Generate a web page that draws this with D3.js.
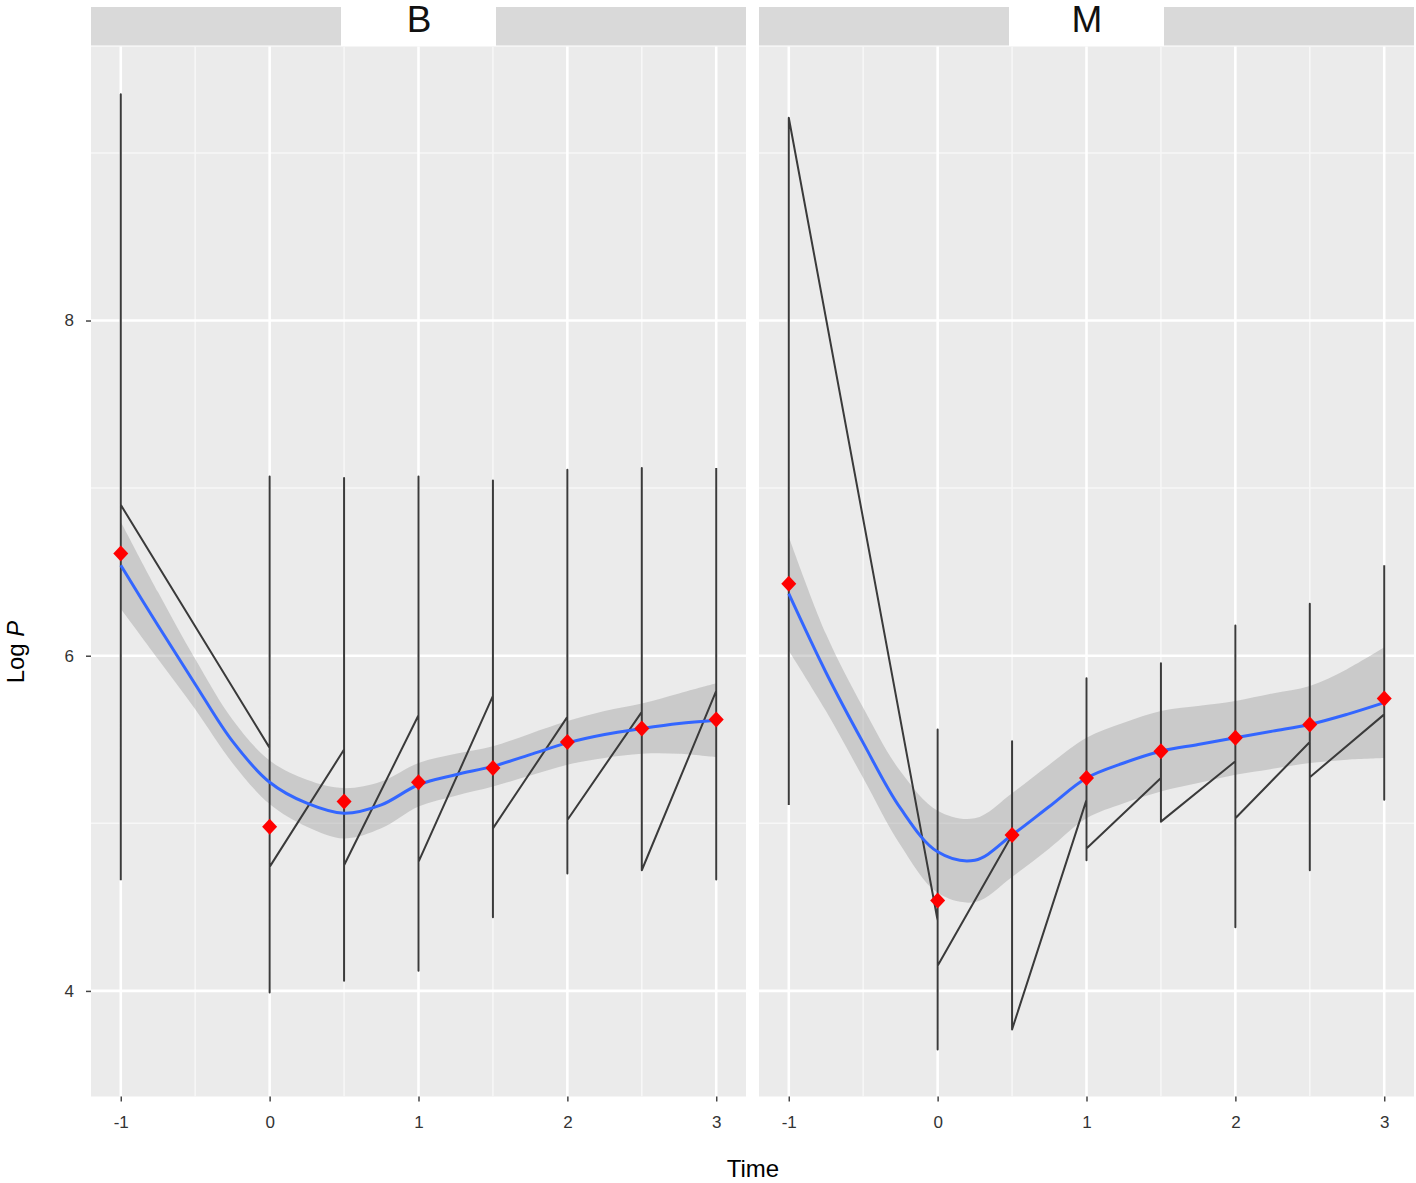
<!DOCTYPE html>
<html>
<head>
<meta charset="utf-8">
<script src="https://cdn.jsdelivr.net/npm/d3@7"></script>
<style>
  body { margin: 0; background: #fff; }
  text { font-family: "Liberation Sans", Arial, sans-serif; }
</style>
</head>
<body>
<div id="chart"></div>
<script>
// measurement times (x axis)
var times = [-1, 0, 0.5, 1, 1.5, 2, 2.5, 3];

// panel B: range of values, where the connecting line comes in / leaves, and the mean
var bLow   = [4.66, 3.99, 4.06, 4.12, 4.44, 4.70, 4.72, 4.665];
var bHigh  = [9.35, 7.07, 7.06, 7.07, 7.045, 7.11, 7.12, 7.12];
var bEntry = [null, 5.45, 5.44, 5.645, 5.76, 5.635, 5.665, 5.79];
var bExit  = [6.90, 4.74, 4.75, 4.77, 4.97, 5.02, 4.72, null];
var bMean  = [6.61, 4.98, 5.13, 5.245, 5.33, 5.485, 5.565, 5.62];

// panel M
var mLow   = [5.11, 3.65, 3.77, 4.78, 5.01, 4.38, 4.72, 5.14];
var mHigh  = [9.21, 5.56, 5.49, 5.865, 5.955, 6.18, 6.31, 6.54];
var mEntry = [null, 4.42, 4.93, 5.14, 5.27, 5.37, 5.485, 5.65];
var mExit  = [9.21, 4.15, 3.77, 4.85, 5.01, 5.03, 5.275, null];
var mMean  = [6.43, 4.54, 4.93, 5.27, 5.43, 5.51, 5.59, 5.745];

// smoother (fit and half width of the band)
var smoothTimes = [-1, -0.75, -0.5, -0.25, 0, 0.25, 0.5, 0.75, 1, 1.25, 1.5, 1.75, 2, 2.25, 2.5, 2.75, 3];
var bFit = [6.54, 6.18, 5.83, 5.49, 5.245, 5.12, 5.06, 5.11, 5.23, 5.29, 5.34, 5.41, 5.48, 5.53, 5.565, 5.595, 5.615];
var bSe  = [0.26, 0.20, 0.15, 0.13, 0.13, 0.14, 0.15, 0.14, 0.13, 0.125, 0.12, 0.125, 0.13, 0.14, 0.15, 0.18, 0.22];
var mFit = [6.37, 5.90, 5.48, 5.09, 4.83, 4.78, 4.93, 5.10, 5.27, 5.36, 5.43, 5.47, 5.51, 5.55, 5.59, 5.65, 5.72];
var mSe  = [0.34, 0.23, 0.21, 0.22, 0.245, 0.25, 0.25, 0.25, 0.24, 0.24, 0.24, 0.23, 0.22, 0.225, 0.23, 0.27, 0.33];

var xTicks = [-1, 0, 1, 2, 3];
var xMinor = [-0.5, 0.5, 1.5, 2.5];
var yTicks = [4, 6, 8];
var yMinor = [5, 7, 9];

var width = 1416;
var height = 1183;
var panelTop = 46.5;
var panelBottom = 1096.5;

var panels = [
  { name: "B", left: 91, right: 746, low: bLow, high: bHigh, entry: bEntry, exit: bExit, mean: bMean, fit: bFit, se: bSe },
  { name: "M", left: 759, right: 1414, low: mLow, high: mHigh, entry: mEntry, exit: mExit, mean: mMean, fit: mFit, se: mSe }
];

var svg = d3.select("#chart")
  .append("svg")
  .attr("width", width)
  .attr("height", height);

var y = d3.scaleLinear().domain([3.37, 9.635]).range([panelBottom, panelTop]);

panels.forEach(function (p, pi) {
  var x = d3.scaleLinear().domain([-1.2, 3.2]).range([p.left, p.right]);
  var g = svg.append("g");

  // strip
  g.append("rect")
    .attr("x", p.left).attr("y", 7)
    .attr("width", p.right - p.left).attr("height", 38.5)
    .attr("fill", "#d9d9d9");
  var mid = (p.left + p.right) / 2;
  g.append("rect")
    .attr("x", mid - 77.5).attr("y", 0)
    .attr("width", 155).attr("height", 46)
    .attr("fill", "#fff");
  g.append("text")
    .attr("x", mid + 0.5).attr("y", 32)
    .attr("text-anchor", "middle")
    .attr("font-size", 37)
    .attr("fill", "#111")
    .text(p.name);

  // panel background + grid
  g.append("rect")
    .attr("x", p.left).attr("y", panelTop)
    .attr("width", p.right - p.left).attr("height", panelBottom - panelTop)
    .attr("fill", "#ebebeb");

  g.selectAll(".ymin").data(yMinor).enter().append("line")
    .attr("x1", p.left).attr("x2", p.right)
    .attr("y1", function (d) { return y(d); }).attr("y2", function (d) { return y(d); })
    .attr("stroke", "#f7f7f7").attr("stroke-width", 1.5);
  g.selectAll(".xmin").data(xMinor).enter().append("line")
    .attr("y1", panelTop).attr("y2", panelBottom)
    .attr("x1", function (d) { return x(d); }).attr("x2", function (d) { return x(d); })
    .attr("stroke", "#f7f7f7").attr("stroke-width", 1.5);
  g.selectAll(".ymaj").data(yTicks).enter().append("line")
    .attr("x1", p.left).attr("x2", p.right)
    .attr("y1", function (d) { return y(d); }).attr("y2", function (d) { return y(d); })
    .attr("stroke", "#fff").attr("stroke-width", 2.6);
  g.selectAll(".xmaj").data(xTicks).enter().append("line")
    .attr("y1", panelTop).attr("y2", panelBottom)
    .attr("x1", function (d) { return x(d); }).attr("x2", function (d) { return x(d); })
    .attr("stroke", "#fff").attr("stroke-width", 2.6);

  // smoother band and line
  var sm = smoothTimes.map(function (t, i) {
    return { t: t, fit: p.fit[i], se: p.se[i] };
  });
  var area = d3.area()
    .x(function (d) { return x(d.t); })
    .y0(function (d) { return y(d.fit - d.se); })
    .y1(function (d) { return y(d.fit + d.se); })
    .curve(d3.curveCatmullRom);
  g.append("path")
    .datum(sm)
    .attr("d", area)
    .attr("fill", "#999999")
    .attr("fill-opacity", 0.4);

  // connecting line through each time's values
  var pts = [];
  times.forEach(function (t, i) {
    if (p.entry[i] != null) pts.push([t, p.entry[i]]);
    pts.push([t, p.low[i]]);
    pts.push([t, p.high[i]]);
    if (p.exit[i] != null) pts.push([t, p.exit[i]]);
  });
  var line = d3.line()
    .x(function (d) { return x(d[0]); })
    .y(function (d) { return y(d[1]); });
  g.append("path")
    .datum(pts)
    .attr("d", line)
    .attr("fill", "none")
    .attr("stroke", "#3a3a3a")
    .attr("stroke-width", 2)
    .attr("stroke-linejoin", "round");

  var fitLine = d3.line()
    .x(function (d) { return x(d.t); })
    .y(function (d) { return y(d.fit); })
    .curve(d3.curveCatmullRom);
  g.append("path")
    .datum(sm)
    .attr("d", fitLine)
    .attr("fill", "none")
    .attr("stroke", "#3366ff")
    .attr("stroke-width", 3);

  // means
  g.selectAll(".mean").data(times).enter().append("path")
    .attr("d", "M0,-8L7.5,0L0,8L-7.5,0Z")
    .attr("transform", function (d, i) { return "translate(" + x(d) + "," + y(p.mean[i]) + ")"; })
    .attr("fill", "#ff0000");

  // x axis
  var xa = g.append("g")
    .attr("transform", "translate(0," + panelBottom + ")")
    .call(d3.axisBottom(x).tickValues(xTicks).tickSize(5).tickPadding(14).tickFormat(d3.format("d")));
  xa.select(".domain").remove();
  xa.selectAll("line").attr("stroke", "#444").attr("stroke-width", 1.5);
  xa.selectAll("text").attr("font-size", 17).attr("fill", "#333")
    .style("font-family", "'Liberation Sans', Arial, sans-serif")
    .text(function (d) { return d < 0 ? "-" + Math.abs(d) : d; });

  if (pi === 0) {
    var ya = g.append("g")
      .attr("transform", "translate(" + p.left + ",0)")
      .call(d3.axisLeft(y).tickValues(yTicks).tickSize(5).tickPadding(12).tickFormat(d3.format("d")));
    ya.select(".domain").remove();
    ya.selectAll("line").attr("stroke", "#444").attr("stroke-width", 1.5);
    ya.selectAll("text").attr("font-size", 17).attr("fill", "#333")
      .style("font-family", "'Liberation Sans', Arial, sans-serif");
  }
});

// axis titles
svg.append("text")
  .attr("x", 753).attr("y", 1177)
  .attr("text-anchor", "middle")
  .attr("font-size", 24)
  .attr("fill", "#000")
  .text("Time");

var yl = svg.append("text")
  .attr("transform", "translate(24,652) rotate(-90)")
  .attr("text-anchor", "middle")
  .attr("font-size", 24)
  .attr("fill", "#000");
yl.append("tspan").text("Log ");
yl.append("tspan").attr("font-style", "italic").text("P");
</script>
</body>
</html>
